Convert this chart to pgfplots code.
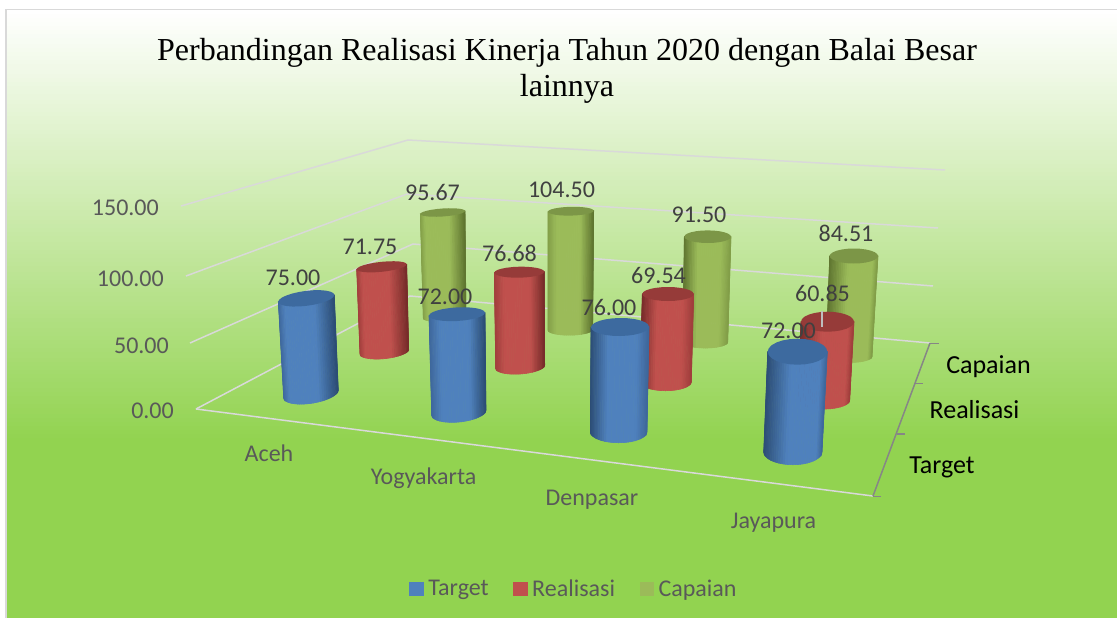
\documentclass[border=0pt]{standalone}
\usepackage{pgfplots}
\pgfplotsset{compat=1.18}
\usepackage{fontspec}
\setmainfont{Carlito}
\newfontfamily\titlefont{Liberation Serif}
\definecolor{bgG}{RGB}{146,211,80}
\definecolor{gridc}{RGB}{217,217,217}
\definecolor{sidec}{RGB}{134,134,134}
\definecolor{txt}{RGB}{89,89,89}
\definecolor{lab}{RGB}{64,64,64}
% blue
\definecolor{bB}{RGB}{79,129,189}\definecolor{bM}{RGB}{62,103,155}\definecolor{bD}{RGB}{44,77,117}\definecolor{bC}{RGB}{61,106,159}
% red
\definecolor{rB}{RGB}{192,80,77}\definecolor{rM}{RGB}{160,62,60}\definecolor{rD}{RGB}{119,44,42}\definecolor{rC}{RGB}{150,59,57}
% olive
\definecolor{oB}{RGB}{155,187,89}\definecolor{oM}{RGB}{130,158,72}\definecolor{oD}{RGB}{95,117,48}\definecolor{oC}{RGB}{124,150,71}
% cylinder: colour prefix, lean code, {TL x,y, TR x,y, top b}{BL x,y, BR x,y, bottom b}
\makeatletter
\def\cyl@parse#1,#2,#3,#4,#5;{\def\cxa{#1}\def\cya{#2}\def\cxb{#3}\def\cyb{#4}\def\cba{#5}}
\def\cyl@parseb#1,#2,#3,#4,#5;{\def\cxc{#1}\def\cyc{#2}\def\cxd{#3}\def\cyd{#4}\def\cbb{#5}}
\def\leanA{\def\lsL{M}\def\lsR{D}\def\pa{0.12}\def\pb{0.65}}
\def\leanY{\def\lsL{M}\def\lsR{D}\def\pa{0.20}\def\pb{0.72}}
\def\leanP{\def\lsL{D}\def\lsR{M}\def\pa{0.30}\def\pb{0.80}}
\def\leanJ{\def\lsL{D}\def\lsR{M}\def\pa{0.40}\def\pb{0.90}}
\newcommand\cyl[4]{%
 \cyl@parse#3;\cyl@parseb#4;%
 \csname lean#2\endcsname
 \foreach \k in {0,5,...,175}{%
  \pgfmathsetmacro\ca{-cos(\k)}\pgfmathsetmacro\cb{-cos(\k+5)}%
  \pgfmathsetmacro\sa{sin(\k)}\pgfmathsetmacro\sb{sin(\k+5)}%
  \pgfmathsetmacro\ss{(1-cos(\k+2.5))/2}%
  \pgfmathtruncatemacro\tA{100*min(1,\ss/\pa)}%
  \pgfmathtruncatemacro\tB{100*min(1,(1-\ss)/(1-\pb))}%
  \ifnum\tA<100 \edef\cexp{#1B!\tA!#1\lsL}\else\edef\cexp{#1B!\tB!#1\lsR}\fi
  \pgfmathsetmacro\xa{(\cxa+\cxb)/2+\ca*(\cxb-\cxa)/2}%
  \pgfmathsetmacro\ya{(\cya+\cyb)/2+\ca*(\cyb-\cya)/2}%
  \pgfmathsetmacro\xb{(\cxa+\cxb)/2+\cb*(\cxb-\cxa)/2}%
  \pgfmathsetmacro\yb{(\cya+\cyb)/2+\cb*(\cyb-\cya)/2}%
  \pgfmathsetmacro\xc{(\cxc+\cxd)/2+\cb*(\cxd-\cxc)/2}%
  \pgfmathsetmacro\yc{(\cyc+\cyd)/2+\cb*(\cyd-\cyc)/2+\sb*\cbb}%
  \pgfmathsetmacro\xd{(\cxc+\cxd)/2+\ca*(\cxd-\cxc)/2}%
  \pgfmathsetmacro\yd{(\cyc+\cyd)/2+\ca*(\cyd-\cyc)/2+\sa*\cbb}%
  \edef\temp{\noexpand\addplot[no marks,line width=0.6pt,draw={\cexp},fill={\cexp},forget plot] coordinates {(\xa,\ya) (\xb,\yb) (\xc,\yc) (\xd,\yd)} --cycle;}\temp
 }%
 \gdef\cpath{}%
 \foreach \a in {0,15,...,345}{%
  \pgfmathsetmacro\px{(\cxa+\cxb)/2+cos(\a)*(\cxb-\cxa)/2}%
  \pgfmathsetmacro\py{(\cya+\cyb)/2+cos(\a)*(\cyb-\cya)/2+sin(\a)*\cba}%
  \xdef\cpath{\cpath(\px,\py) }}%
 \edef\temp{\noexpand\addplot[no marks,draw=none,fill=#1C,forget plot] coordinates {\cpath} --cycle;}\temp
}
\makeatother
\newcommand\lab[4][lab]{\node[text=#1,font=\fontsize{24}{28}\selectfont,inner sep=0pt] at (axis cs:#2,#3) {#4};}
\begin{document}
\begin{tikzpicture}[x=1pt,y=1pt]
\path[use as bounding box] (0,0) rectangle (1117,618);
\fill[white] (0,0) rectangle (1117,618);
\fill[bgG] (6,0) rectangle (1117,180);
\foreach \yy in {10,12,...,438}{%
  \pgfmathtruncatemacro\t{round((\yy-10)/4.3)}%
  \fill[bgG!\t!white] (6,618-\yy) rectangle (1117,618-\yy-2.6);
}
\draw[gridc,line width=1.5pt] (6,0) -- (6,608.5) -- (1117,608.5);
\begin{axis}[at={(0,0)},anchor=south west,scale only axis,width=1117pt,height=618pt,
  xmin=0,xmax=1117,ymin=0,ymax=618,y dir=reverse,hide axis,clip=false,
  legend columns=3,
  legend style={at={(axis cs:574,589)},anchor=center,draw=none,fill=none,
    font=\fontsize{24}{28}\selectfont\color{txt},inner sep=0pt,
    /tikz/every even column/.append style={column sep=22.5pt}},
  legend image code/.code={\fill[#1] (0pt,-7pt) rectangle (14.5pt,7pt);\path (17pt,0pt);}]
% legend
\addlegendimage{fill=bB,draw=none}\addlegendentry{Target}
\addlegendimage{fill=rB,draw=none}\addlegendentry{Realisasi}
\addlegendimage{fill=oB,draw=none}\addlegendentry{Capaian}
% gridlines
\addplot[no marks,gridc,line width=1.5pt,forget plot] coordinates {(181,206)(408,140)(945,170)};
\addplot[no marks,gridc,line width=1.5pt,forget plot] coordinates {(186,276)(407,194)(938,228)};
\addplot[no marks,gridc,line width=1.5pt,forget plot] coordinates {(190,343)(413,244)(933,286)};
\addplot[no marks,gridc,line width=1.5pt,forget plot] coordinates {(196,409)(410,296)(930,343)};
\addplot[no marks,gridc,line width=1.5pt,forget plot] coordinates {(196,409)(873,496)};
% side axis
\addplot[no marks,sidec,line width=1.5pt,forget plot] coordinates {(873,496)(930,343)};
\addplot[no marks,sidec,line width=1.5pt,forget plot] coordinates {(873,496.5)(881,496.5)};
\addplot[no marks,sidec,line width=1.5pt,forget plot] coordinates {(897,434)(905,434)};
\addplot[no marks,sidec,line width=1.5pt,forget plot] coordinates {(915,383.5)(923,383.5)};
\addplot[no marks,sidec,line width=1.5pt,forget plot] coordinates {(930,343.5)(939,343.5)};
% Capaian row
\cyl{o}{A}{420.3,214,465,211,4}{423.3,318,466,314,5}
\cyl{o}{Y}{548,211.7,593.7,210.7,4.4}{548,330,592.7,329.3,5.5}
\cyl{o}{P}{684.3,236.7,731,236.7,6.3}{683,342,727.7,342,6}
\cyl{o}{J}{829.7,256,878,256,7.5}{826,356.5,872,356.5,6}
% Realisasi row
\cyl{r}{A}{356.7,269.3,406.7,264.3,5}{360,354,408.7,349.3,7}
\cyl{r}{Y}{494.3,272.7,544.3,271.7,5.5}{495.7,368.3,544.7,365,7.3}
\cyl{r}{P}{642.3,294,693.7,294,7}{640,381.7,691.3,381.7,9}
\cyl{r}{J}{801,321.7,854,321.7,10}{798,400,849.7,400,9}
\addplot[no marks,gridc!70!gray,line width=1.2pt,forget plot] coordinates {(822,311)(822,327)};
% Target row
\cyl{b}{A}{278.3,301.7,334.3,295,7.5}{283.7,397.7,338.3,390,9.5}
\cyl{b}{Y}{429,315.7,485,312.7,6.8}{431.7,415,486,410,9.5}
\cyl{b}{P}{591,327.3,649,326.7,9}{590.3,431.7,647,431.7,11}
\cyl{b}{J}{767.7,351.7,827.3,351.7,13}{763.7,451.7,822,451.7,13}
% data labels
\lab{293}{278}{75.00}\lab{370}{247}{71.75}\lab{432.5}{192}{95.67}
\lab{445}{297}{72.00}\lab{509.5}{253}{76.68}\lab{561.5}{190}{104.50}
\lab{699}{215}{91.50}\lab{658.5}{275}{69.54}\lab{609}{307}{76.00}
\lab{846}{233}{84.51}\lab{822.5}{293}{60.85}\lab{788.5}{331}{72.00}
% value axis labels
\node[text=txt,font=\fontsize{24}{28}\selectfont,anchor=east,inner sep=0pt] at (axis cs:159,208) {150.00};
\node[text=txt,font=\fontsize{24}{28}\selectfont,anchor=east,inner sep=0pt] at (axis cs:164,278.5) {100.00};
\node[text=txt,font=\fontsize{24}{28}\selectfont,anchor=east,inner sep=0pt] at (axis cs:169,345.5) {50.00};
\node[text=txt,font=\fontsize{24}{28}\selectfont,anchor=east,inner sep=0pt] at (axis cs:174,411) {0.00};
% categories
\lab[txt]{269}{453}{Aceh}\lab[txt]{423.5}{478}{Yogyakarta}\lab[txt]{592}{500}{Denpasar}\lab[txt]{773.5}{523}{Jayapura}
% depth labels
\node[text=black,font=\fontsize{26}{30}\selectfont,inner sep=0pt] at (axis cs:988.5,366.5) {Capaian};
\node[text=black,font=\fontsize{26}{30}\selectfont,inner sep=0pt] at (axis cs:974.5,410) {Realisasi};
\node[text=black,font=\fontsize{26}{30}\selectfont,inner sep=0pt] at (axis cs:942,467.5) {Target};
% title
\node[text=black,font=\titlefont\fontsize{32}{36}\selectfont,inner sep=0pt] at (axis cs:567,53) {Perbandingan Realisasi Kinerja Tahun 2020 dengan Balai Besar};
\node[text=black,font=\titlefont\fontsize{32}{36}\selectfont,inner sep=0pt] at (axis cs:567,89) {lainnya};
\end{axis}
\end{tikzpicture}
\end{document}
